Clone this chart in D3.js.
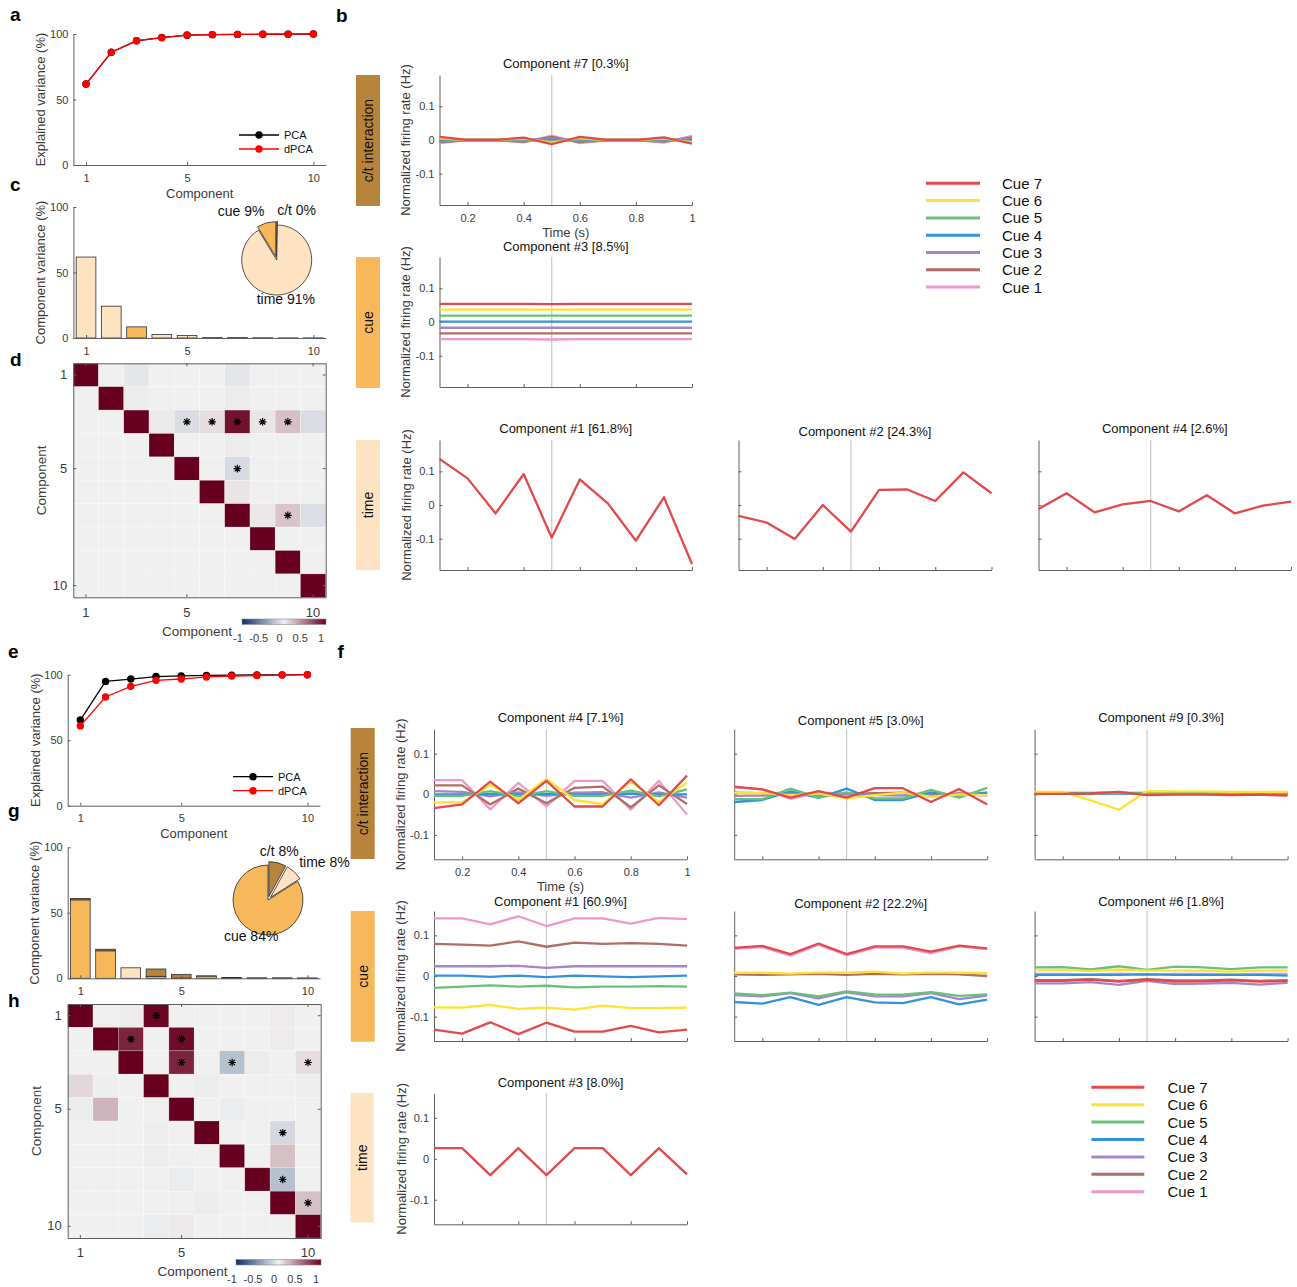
<!DOCTYPE html>
<html>
<head>
<meta charset="utf-8">
<script src="https://cdn.jsdelivr.net/npm/d3@7"></script>
<style>
  html, body { margin: 0; padding: 0; background: #ffffff; }
</style>
</head>
<body>
<script>
// ---------------------------------------------------------------
// Data
// ---------------------------------------------------------------
const components = [1, 2, 3, 4, 5, 6, 7, 8, 9, 10];
const componentTicks = [1, 5, 10];
const varianceTicks = [0, 50, 100];
const timePoints = [0.1, 0.2, 0.3, 0.4, 0.5, 0.6, 0.7, 0.8, 0.9, 1.0];
const timeTicks = [0.2, 0.4, 0.6, 0.8, 1];
const rateTicks = [-0.1, 0, 0.1];
const corrTicks = [-1, -0.5, 0, 0.5, 1];
const stimulusTime = 0.5;
const cueLabels = ["Cue 7", "Cue 6", "Cue 5", "Cue 4", "Cue 3", "Cue 2", "Cue 1"];
const margLabels = ["c/t", "time", "cue"];          // pie order, clockwise from top
const rowNames = ["c/t interaction", "cue", "time"];

// cumulative explained variance (%)
const cumVarPcaA  = [61.8, 86.1, 94.8, 97.3, 99.1, 99.5, 99.7, 99.8, 99.9, 100];
const cumVarDpcaA = [61.6, 86.0, 94.9, 97.2, 99.2, 99.5, 99.7, 99.8, 99.9, 100];
const cumVarPcaE  = [65.4, 94.9, 96.7, 98.6, 99.1, 99.5, 99.7, 99.8, 99.9, 100];
const cumVarDpcaE = [60.9, 83.0, 91.1, 95.7, 96.7, 98.3, 99.0, 99.4, 99.7, 100];

// per-component variance (%) split by marginalization
const compVarCueC  = [0, 0, 8.5, 0, 0, 0, 0, 0, 0, 0];
const compVarTimeC = [61.8, 24.3, 0, 2.6, 1.9, 0.3, 0, 0.2, 0.1, 0.1];
const compVarCtC   = [0, 0, 0, 0, 0, 0, 0.3, 0, 0, 0];
const compVarCueG  = [59.9, 21.0, 0, 1.5, 0.2, 1.7, 0.1, 0.1, 0.1, 0.1];
const compVarTimeG = [0, 0, 8.0, 0, 0, 0, 0, 0, 0, 0];
const compVarCtG   = [1.0, 1.2, 0, 5.6, 2.8, 0.1, 0.5, 0.2, 0.2, 0.1];

// total variance share per marginalization: c/t, time, cue
const pieShareC = [0.3, 91.0, 8.7];
const pieShareG = [8.0, 8.0, 84.0];

// dot products between demixed axes
const corrD = [
  [1, 0, -0.05, 0, 0, 0, -0.05, 0, 0, 0],
  [0, 1, 0.02, 0, 0, 0, 0.02, 0, 0, 0],
  [0, 0, 1, 0.03, -0.1, 0.08, 0.93, 0.05, 0.2, -0.1],
  [0, 0, 0, 1, 0, 0, 0.02, 0, 0, 0],
  [0, 0, 0, 0, 1, 0, -0.11, 0, 0, 0],
  [0, 0, 0, 0, 0, 1, 0.05, 0, 0, 0],
  [0, 0, 0, 0, 0, 0, 1, 0.04, 0.18, -0.09],
  [0, 0, 0, 0, 0, 0, 0, 1, 0, 0],
  [0, 0, 0, 0, 0, 0, 0, 0, 1, 0],
  [0, 0, 0, 0, 0, 0, 0, 0, 0, 1]
];
const sigD = [[3, 5], [3, 6], [3, 7], [3, 8], [3, 9], [5, 7], [7, 9]];

const corrH = [
  [1, 0, 0.02, 0.98, 0, 0, 0, 0, 0.02, 0],
  [0, 1, 0.85, 0, 0.95, 0, 0, 0, 0.02, 0],
  [0, 0, 1, 0, 0.85, 0, -0.25, 0.02, 0, 0.08],
  [0.1, -0.01, 0, 1, 0, -0.02, 0, 0, 0, -0.01],
  [-0.02, 0.25, 0, 0, 1, 0, -0.02, 0, 0, 0],
  [0, 0, 0, -0.01, 0, 1, 0, 0, -0.12, 0],
  [0, 0, 0, -0.01, 0, 0, 1, 0, 0.2, 0],
  [0, 0, 0, 0, -0.02, 0, 0, 1, -0.25, 0],
  [0, 0, 0, 0, 0, -0.02, 0, 0, 1, 0.2],
  [0, 0, 0, -0.02, 0.03, 0, 0, 0, 0, 1]
];
const sigH = [[1, 4], [2, 3], [2, 5], [3, 5], [3, 7], [3, 10], [6, 9], [8, 9], [9, 10]];

// demixed component traces (Hz), rows ordered Cue 7 ... Cue 1
const traceB7 = [
  [0.009, 0.000, 0.000, 0.007, -0.012, 0.009, 0.000, 0.000, 0.008, -0.011],
  [0.006, 0.000, 0.000, 0.005, -0.008, 0.006, 0.000, 0.000, 0.005, -0.007],
  [0.003, 0.000, 0.000, 0.002, -0.004, 0.003, 0.000, 0.000, 0.003, -0.004],
  [0.000, 0.000, 0.000, 0.000, 0.000, 0.000, 0.000, 0.000, 0.000, 0.000],
  [-0.003, 0.000, 0.000, -0.002, 0.004, -0.003, 0.000, 0.000, -0.003, 0.004],
  [-0.006, 0.000, 0.000, -0.005, 0.009, -0.006, 0.000, 0.000, -0.005, 0.008],
  [-0.009, 0.000, 0.000, -0.007, 0.013, -0.009, 0.000, 0.000, -0.008, 0.012]
];
const traceB3 = [
  [0.054, 0.054, 0.054, 0.054, 0.053, 0.054, 0.054, 0.054, 0.054, 0.054],
  [0.037, 0.037, 0.037, 0.037, 0.037, 0.037, 0.037, 0.037, 0.037, 0.037],
  [0.019, 0.019, 0.019, 0.019, 0.019, 0.019, 0.019, 0.019, 0.019, 0.019],
  [0.001, 0.001, 0.001, 0.001, 0.001, 0.001, 0.001, 0.001, 0.001, 0.001],
  [-0.017, -0.017, -0.017, -0.017, -0.017, -0.017, -0.017, -0.017, -0.017, -0.017],
  [-0.034, -0.034, -0.034, -0.034, -0.034, -0.034, -0.034, -0.034, -0.034, -0.034],
  [-0.051, -0.051, -0.051, -0.051, -0.052, -0.051, -0.051, -0.051, -0.051, -0.051]
];
const traceB1 = [0.137, 0.079, -0.025, 0.092, -0.097, 0.076, 0.005, -0.106, 0.023, -0.175];
const traceB2 = [-0.032, -0.052, -0.101, 0.000, -0.079, 0.045, 0.046, 0.012, 0.097, 0.035];
const traceB4 = [-0.012, 0.035, -0.022, 0.002, 0.012, -0.019, 0.029, -0.025, -0.002, 0.010];

const traceF4 = [
  [-0.034, -0.025, 0.031, -0.022, 0.033, -0.030, -0.030, 0.037, -0.027, 0.046],
  [-0.020, -0.020, 0.023, -0.014, 0.038, -0.014, -0.024, 0.031, -0.019, 0.029],
  [-0.004, -0.004, 0.008, -0.005, 0.008, -0.004, -0.004, 0.009, -0.005, 0.012],
  [0.000, 0.000, 0.001, 0.000, 0.001, 0.000, 0.000, 0.002, 0.000, 0.000],
  [0.008, 0.006, -0.005, 0.005, -0.004, 0.004, 0.005, -0.008, 0.005, -0.008],
  [0.022, 0.022, -0.025, 0.014, -0.022, 0.016, 0.019, -0.032, 0.022, -0.024],
  [0.035, 0.035, -0.037, 0.028, -0.030, 0.033, 0.033, -0.038, 0.033, -0.050]
];
const traceF5 = [
  [0.019, 0.012, -0.008, 0.008, -0.008, 0.015, 0.015, -0.019, 0.013, -0.025],
  [0.003, 0.003, -0.002, 0.002, -0.010, -0.002, 0.004, -0.006, 0.000, -0.002],
  [-0.012, -0.012, 0.014, -0.008, 0.005, -0.010, -0.010, 0.011, -0.008, 0.016],
  [-0.019, -0.014, 0.007, -0.009, 0.014, -0.014, -0.014, 0.005, -0.003, 0.005],
  [-0.004, -0.003, 0.004, -0.002, 0.002, -0.002, -0.003, 0.003, -0.002, 0.003],
  [0.004, 0.003, -0.002, 0.002, 0.001, 0.003, 0.004, -0.002, 0.002, 0.000],
  [0.017, 0.012, -0.011, 0.004, -0.004, 0.003, 0.003, -0.005, 0.002, -0.004]
];
const traceF9 = [
  [0.001, 0.001, 0.002, 0.006, -0.002, -0.001, -0.001, -0.002, -0.001, -0.003],
  [0.006, 0.006, -0.015, -0.038, 0.008, 0.007, 0.007, 0.006, 0.006, 0.006],
  [0.003, 0.003, 0.002, 0.003, 0.003, 0.003, 0.003, 0.003, 0.003, 0.003],
  [0.002, 0.002, 0.002, 0.002, 0.002, 0.002, 0.002, 0.002, 0.002, 0.002],
  [0.003, 0.003, 0.003, 0.003, 0.002, 0.003, 0.003, 0.003, 0.003, 0.003],
  [0.002, 0.002, 0.003, 0.004, 0.001, 0.002, 0.002, 0.002, 0.002, 0.001],
  [0.004, 0.004, 0.004, 0.004, 0.004, 0.004, 0.004, 0.004, 0.004, 0.004]
];
const traceF1 = [
  [-0.132, -0.142, -0.114, -0.143, -0.115, -0.137, -0.137, -0.123, -0.139, -0.132],
  [-0.077, -0.078, -0.071, -0.081, -0.078, -0.083, -0.073, -0.079, -0.079, -0.078],
  [-0.029, -0.026, -0.023, -0.026, -0.024, -0.028, -0.026, -0.026, -0.025, -0.026],
  [0.001, 0.001, -0.002, 0.001, -0.003, 0.001, -0.001, -0.003, -0.001, 0.001],
  [0.024, 0.024, 0.024, 0.025, 0.020, 0.024, 0.024, 0.024, 0.024, 0.024],
  [0.079, 0.077, 0.075, 0.085, 0.072, 0.082, 0.079, 0.081, 0.079, 0.075],
  [0.142, 0.142, 0.127, 0.147, 0.123, 0.142, 0.142, 0.129, 0.143, 0.140]
];
const traceF2 = [
  [0.069, 0.074, 0.054, 0.080, 0.054, 0.073, 0.073, 0.060, 0.075, 0.068],
  [0.008, 0.008, 0.006, 0.009, 0.008, 0.011, 0.006, 0.009, 0.008, 0.007],
  [-0.043, -0.047, -0.041, -0.050, -0.038, -0.045, -0.046, -0.040, -0.049, -0.045],
  [-0.064, -0.068, -0.052, -0.071, -0.052, -0.065, -0.067, -0.052, -0.070, -0.058],
  [-0.047, -0.050, -0.042, -0.055, -0.040, -0.050, -0.050, -0.042, -0.057, -0.048],
  [0.004, 0.003, 0.004, 0.005, 0.003, 0.005, 0.004, 0.005, 0.004, 0.000],
  [0.067, 0.071, 0.050, 0.077, 0.051, 0.070, 0.070, 0.056, 0.073, 0.066]
];
const traceF6 = [
  [-0.012, -0.012, -0.009, -0.014, -0.009, -0.014, -0.013, -0.011, -0.014, -0.012],
  [0.014, 0.015, 0.012, 0.016, 0.013, 0.013, 0.013, 0.011, 0.013, 0.014],
  [0.021, 0.022, 0.016, 0.024, 0.015, 0.023, 0.021, 0.017, 0.021, 0.021],
  [0.003, 0.003, 0.003, 0.003, 0.004, 0.003, 0.003, 0.003, 0.003, 0.001],
  [-0.018, -0.018, -0.015, -0.022, -0.012, -0.020, -0.019, -0.017, -0.021, -0.017],
  [-0.010, -0.010, -0.008, -0.012, -0.008, -0.011, -0.011, -0.009, -0.012, -0.010],
  [0.005, 0.005, 0.004, 0.006, 0.004, 0.005, 0.005, 0.004, 0.005, 0.005]
];
const traceF3 = [0.026, 0.026, -0.040, 0.026, -0.040, 0.026, 0.026, -0.040, 0.026, -0.038];

// ---------------------------------------------------------------
// Styling
// ---------------------------------------------------------------
const FONT = "'Liberation Sans', Arial, Helvetica, sans-serif";
const AXIS_COLOR = "#5f5f5f";
const TEXT_COLOR = "#3a3a3a";
const cueColors = ["#e2494b", "#fde232", "#6abf7b", "#3292dc", "#a585c9", "#ae6f63", "#ef98cd"];
const margColors = { "c/t": "#b8843b", "time": "#fde3c1", "cue": "#f7b85b" };
const rowColors = { "c/t interaction": "#b8843b", "cue": "#f7b85b", "time": "#fde3c1" };
const corrColor = d3.scaleLinear().domain([-1, 0, 1])
  .range(["#0b3166", "#f0f0f0", "#67001f"]).interpolate(d3.interpolateRgb);

const svg = d3.select("body").append("svg")
  .attr("width", 1297).attr("height", 1287)
  .attr("font-family", FONT);
svg.append("rect").attr("width", 1297).attr("height", 1287).attr("fill", "#fff");

function styleAxis(sel, size) {
  sel.attr("font-family", FONT).attr("font-size", size);
  sel.select(".domain").attr("stroke", AXIS_COLOR).attr("stroke-width", 1);
  sel.selectAll(".tick line").attr("stroke", AXIS_COLOR);
  sel.selectAll(".tick text").attr("fill", TEXT_COLOR);
}
function hText(x, y, str, size, opts = {}) {
  return svg.append("text").attr("x", x).attr("y", y)
    .attr("text-anchor", opts.anchor || "middle")
    .attr("font-size", size)
    .attr("font-weight", opts.bold ? "bold" : null)
    .attr("fill", opts.color || TEXT_COLOR)
    .text(str);
}
function vText(x, y, str, size, color) {
  return svg.append("text")
    .attr("transform", `translate(${x},${y}) rotate(-90)`)
    .attr("text-anchor", "middle").attr("dy", "0.35em")
    .attr("font-size", size).attr("fill", color || TEXT_COLOR)
    .text(str);
}
const rateFmt = d => (d === 0 ? "0" : String(d));

// ---------------------------------------------------------------
// Explained variance (a, e)
// ---------------------------------------------------------------
function cumVarPanel(box, pca, dpca, leg) {
  const x = d3.scaleLinear().domain([0.5, 10.5]).range([box.left, box.right]);
  const y = d3.scaleLinear().domain([0, 100]).range([box.bottom, box.top]);
  const g = svg.append("g");
  const xa = g.append("g").attr("transform", `translate(0,${box.bottom})`)
    .call(d3.axisBottom(x).tickValues(componentTicks).tickSizeInner(-3).tickSizeOuter(0).tickPadding(9));
  styleAxis(xa, 11);
  const ya = g.append("g").attr("transform", `translate(${box.left},0)`)
    .call(d3.axisLeft(y).tickValues(varianceTicks).tickSizeInner(-3).tickSizeOuter(0).tickPadding(5));
  styleAxis(ya, 11);
  const line = d3.line().x((d, i) => x(components[i])).y(d => y(d));
  [[pca, "#000000"], [dpca, "#ff0000"]].forEach(([vals, col]) => {
    g.append("path").attr("d", line(vals)).attr("fill", "none").attr("stroke", col).attr("stroke-width", 1.3);
    g.selectAll(null).data(vals).enter().append("circle")
      .attr("cx", (d, i) => x(components[i])).attr("cy", d => y(d)).attr("r", 3.7).attr("fill", col);
  });
  // legend
  [["PCA", "#000000"], ["dPCA", "#ff0000"]].forEach(([lab, col], i) => {
    const yy = leg.y + i * 14;
    g.append("line").attr("x1", leg.x0).attr("x2", leg.x1).attr("y1", yy).attr("y2", yy)
      .attr("stroke", col).attr("stroke-width", 1.3);
    g.append("circle").attr("cx", (leg.x0 + leg.x1) / 2).attr("cy", yy).attr("r", 3.7).attr("fill", col);
    g.append("text").attr("x", leg.x1 + 5).attr("y", yy).attr("dy", "0.35em")
      .attr("font-size", 11).attr("fill", "#111").text(lab);
  });
  hText((box.left + box.right) / 2, box.xTitleY, "Component", 13);
  vText(box.yTitleX, (box.top + box.bottom) / 2, "Explained variance (%)", 13);
}

// ---------------------------------------------------------------
// Component variance bars with pie (c, g)
// ---------------------------------------------------------------
function compVarPanel(box, cue, time, ct, share, pieBox, anchors) {
  const x = d3.scaleLinear().domain([0.5, 10.5]).range([box.left, box.right]);
  const y = d3.scaleLinear().domain([0, 100]).range([box.bottom, box.top]);
  const bw = (x(2) - x(1)) * 0.78;
  const g = svg.append("g");
  components.forEach((c, i) => {
    let base = 0;
    [["cue", cue[i]], ["time", time[i]], ["c/t", ct[i]]].forEach(([m, v]) => {
      if (v <= 0) return;
      g.append("rect").attr("x", x(c) - bw / 2).attr("width", bw)
        .attr("y", y(base + v)).attr("height", y(base) - y(base + v))
        .attr("fill", margColors[m]).attr("stroke", "#2f2f2f").attr("stroke-width", 0.8);
      base += v;
    });
  });
  const xa = g.append("g").attr("transform", `translate(0,${box.bottom})`)
    .call(d3.axisBottom(x).tickValues(componentTicks).tickSizeInner(-3).tickSizeOuter(0).tickPadding(9));
  styleAxis(xa, 11);
  const ya = g.append("g").attr("transform", `translate(${box.left},0)`)
    .call(d3.axisLeft(y).tickValues(varianceTicks).tickSizeInner(-3).tickSizeOuter(0).tickPadding(5));
  styleAxis(ya, 11);
  vText(box.yTitleX, (box.top + box.bottom) / 2, "Component variance (%)", 13);

  // pie, clockwise from 12 o'clock, small slices pulled out
  const r = pieBox.r;
  const arcs = d3.pie().sort(null).value(d => d)(share);
  const arc = d3.arc().innerRadius(0).outerRadius(r);
  arcs.forEach((a, i) => {
    const mid = (a.startAngle + a.endAngle) / 2;
    const ex = share[i] < 10 ? 0.1 * r : 0;
    const cx = pieBox.cx + Math.sin(mid) * ex, cy = pieBox.cy - Math.cos(mid) * ex;
    g.append("path").attr("d", arc(a)).attr("transform", `translate(${cx},${cy})`)
      .attr("fill", margColors[margLabels[i]]).attr("stroke", "#2a2a2a").attr("stroke-width", 0.8);
    const upper = Math.cos(mid) > 0;
    const d = upper ? 1.2 * r + ex : 1.0 * r + ex;
    const lx = pieBox.cx + Math.sin(mid) * d;
    const ly = upper ? pieBox.cy - Math.cos(mid) * d : pieBox.cy - Math.cos(mid) * d + 10;
    g.append("text").attr("x", lx).attr("y", ly).attr("text-anchor", anchors[i])
      .attr("font-size", 14).attr("fill", "#111")
      .text(`${margLabels[i]} ${Math.round(share[i])}%`);
  });
}

// ---------------------------------------------------------------
// Axis dot-product matrices (d, h)
// ---------------------------------------------------------------
function corrPanel(box, mat, sig, cbar, id) {
  const xb = d3.scaleBand().domain(components).range([box.left, box.right]);
  const yb = d3.scaleBand().domain(components).range([box.top, box.bottom]);
  const g = svg.append("g");
  mat.forEach((row, i) => row.forEach((v, j) => {
    g.append("rect").attr("x", xb(components[j])).attr("y", yb(components[i]))
      .attr("width", xb.bandwidth()).attr("height", yb.bandwidth())
      .attr("fill", corrColor(v)).attr("stroke", "rgba(255,255,255,0.35)").attr("stroke-width", 0.6);
  }));
  const star = "M-3.8,0H3.8M0,-3.8V3.8M-2.7,-2.7L2.7,2.7M-2.7,2.7L2.7,-2.7";
  sig.forEach(([i, j]) => {
    g.append("path").attr("d", star)
      .attr("transform", `translate(${xb(j) + xb.bandwidth() / 2},${yb(i) + yb.bandwidth() / 2})`)
      .attr("stroke", "#000").attr("stroke-width", 1.2).attr("fill", "none");
  });
  const mk = (axis, tr, labels) => {
    const a = g.append("g").attr("transform", tr)
      .call(axis.tickValues(componentTicks).tickSizeInner(-3).tickSizeOuter(0).tickPadding(labels ? 6 : 3)
        .tickFormat(labels ? (d => String(d)) : (() => "")));
    styleAxis(a, 13);
    return a;
  };
  mk(d3.axisLeft(yb), `translate(${box.left},0)`, true);
  mk(d3.axisRight(yb), `translate(${box.right},0)`, false);
  mk(d3.axisTop(xb), `translate(0,${box.top})`, false);
  const bx = mk(d3.axisBottom(xb), `translate(0,${box.bottom})`, true);
  bx.selectAll(".tick text").attr("y", 10);
  hText(box.xTitleX, box.xTitleY, "Component", 13.5);
  vText(box.yTitleX, (box.top + box.bottom) / 2, "Component", 13.5);

  // colour bar
  const grad = svg.append("defs").append("linearGradient").attr("id", id)
    .attr("x1", "0%").attr("x2", "100%").attr("y1", "0%").attr("y2", "0%");
  d3.range(0, 1.0001, 0.05).forEach(t => {
    grad.append("stop").attr("offset", `${t * 100}%`).attr("stop-color", corrColor(-1 + 2 * t));
  });
  g.append("rect").attr("x", cbar.x0).attr("y", cbar.y0).attr("width", cbar.x1 - cbar.x0)
    .attr("height", cbar.y1 - cbar.y0).attr("fill", `url(#${id})`)
    .attr("stroke", "#8a8a8a").attr("stroke-width", 0.6);
  const cx = d3.scaleLinear().domain([-1, 1]).range([cbar.x0 - 4, cbar.x1 - 5]);
  corrTicks.forEach(t => {
    g.append("text").attr("x", cx(t)).attr("y", cbar.labelY).attr("text-anchor", "middle")
      .attr("font-size", 11).attr("fill", TEXT_COLOR).text(String(t));
  });
}

// ---------------------------------------------------------------
// Demixed component traces (b, f)
// ---------------------------------------------------------------
function tracePanel(p) {
  const x = d3.scaleLinear().domain([timePoints[0], timePoints[timePoints.length - 1]]).range([p.left, p.right]);
  const y = d3.scaleLinear().domain([-p.yMax, p.yMax]).range([p.bottom, p.top]);
  const g = svg.append("g");
  g.append("line").attr("x1", x(stimulusTime)).attr("x2", x(stimulusTime))
    .attr("y1", p.top).attr("y2", p.bottom).attr("stroke", "#c8c8c8").attr("stroke-width", 1.2);
  const xa = g.append("g").attr("transform", `translate(0,${p.bottom})`)
    .call(d3.axisBottom(x).tickValues(timeTicks).tickSizeInner(-3).tickSizeOuter(0).tickPadding(9)
      .tickFormat(p.xLabels ? (d => String(d)) : (() => "")));
  styleAxis(xa, 11);
  const ya = g.append("g").attr("transform", `translate(${p.left},0)`)
    .call(d3.axisLeft(y).tickValues(rateTicks).tickSizeInner(-3).tickSizeOuter(0).tickPadding(5)
      .tickFormat(p.yLabels ? rateFmt : (() => "")));
  styleAxis(ya, 11);
  const line = d3.line().x((d, i) => x(timePoints[i])).y(d => y(d));
  // Cue 1 first so Cue 7 ends on top
  for (let i = p.series.length - 1; i >= 0; i--) {
    g.append("path").attr("d", line(p.series[i])).attr("fill", "none")
      .attr("stroke", cueColors[i]).attr("stroke-width", 2.3).attr("stroke-linejoin", "round");
  }
  hText((p.left + p.right) / 2, p.titleY, p.title, 13, { color: "#111" });
  if (p.yTitleX) vText(p.yTitleX, (p.top + p.bottom) / 2, "Normalized firing rate (Hz)", 13);
  if (p.xTitleY) hText((p.left + p.right) / 2, p.xTitleY, "Time (s)", 13);
}

function rowBox(x0, x1, y0, y1, name) {
  svg.append("rect").attr("x", x0).attr("y", y0).attr("width", x1 - x0).attr("height", y1 - y0)
    .attr("fill", rowColors[name]);
  vText((x0 + x1) / 2, (y0 + y1) / 2, name, 14, "#111");
}

function cueLegend(x0, x1, tx, y0, dy) {
  cueLabels.forEach((lab, i) => {
    const yy = y0 + i * dy;
    svg.append("line").attr("x1", x0).attr("x2", x1).attr("y1", yy).attr("y2", yy)
      .attr("stroke", cueColors[i]).attr("stroke-width", 3);
    svg.append("text").attr("x", tx).attr("y", yy).attr("dy", "0.36em")
      .attr("font-size", 15).attr("fill", "#111").text(lab);
  });
}

// ---------------------------------------------------------------
// Layout
// ---------------------------------------------------------------
cumVarPanel({ left: 73.4, right: 326, top: 34, bottom: 165, xTitleY: 198, yTitleX: 40 },
  cumVarPcaA, cumVarDpcaA, { x0: 239, x1: 279, y: 135 });
compVarPanel({ left: 73.4, right: 326, top: 207, bottom: 338, yTitleX: 40 },
  compVarCueC, compVarTimeC, compVarCtC, pieShareC, { cx: 276.7, cy: 260, r: 35 },
  ["start", "middle", "end"]);
corrPanel({ left: 73.3, right: 325.7, top: 363.3, bottom: 597.3, xTitleX: 197, xTitleY: 635.5, yTitleX: 41 },
  corrD, sigD, { x0: 242, x1: 326, y0: 619, y1: 624.5, labelY: 642 }, "cbarD");

cumVarPanel({ left: 67.7, right: 320, top: 674.7, bottom: 805.7, xTitleY: 838, yTitleX: 35 },
  cumVarPcaE, cumVarDpcaE, { x0: 233, x1: 273, y: 776.7 });
compVarPanel({ left: 67.7, right: 320, top: 847.3, bottom: 978.3, yTitleX: 34 },
  compVarCueG, compVarTimeG, compVarCtG, pieShareG, { cx: 268, cy: 900, r: 35 },
  ["middle", "start", "middle"]);
corrPanel({ left: 67.7, right: 320.7, top: 1004, bottom: 1238, xTitleX: 192.5, xTitleY: 1276, yTitleX: 36 },
  corrH, sigH, { x0: 236, x1: 321, y0: 1259.5, y1: 1265, labelY: 1283 }, "cbarH");

// b: first dataset
rowBox(356, 380, 75, 206, "c/t interaction");
rowBox(356, 380, 257, 388, "cue");
rowBox(356, 380, 440, 570, "time");
tracePanel({ left: 439.5, right: 692, top: 75, bottom: 205, yMax: 0.193, series: traceB7,
  title: "Component #7 [0.3%]", titleY: 68, xLabels: true, yLabels: true, yTitleX: 405, xTitleY: 237 });
tracePanel({ left: 439.5, right: 692, top: 257, bottom: 387, yMax: 0.193, series: traceB3,
  title: "Component #3 [8.5%]", titleY: 251, xLabels: false, yLabels: true, yTitleX: 405 });
tracePanel({ left: 439.5, right: 692, top: 440, bottom: 570, yMax: 0.193, series: [traceB1],
  title: "Component #1 [61.8%]", titleY: 433, xLabels: false, yLabels: true, yTitleX: 406 });
tracePanel({ left: 738.5, right: 991.5, top: 440, bottom: 570, yMax: 0.193, series: [traceB2],
  title: "Component #2 [24.3%]", titleY: 436, xLabels: false, yLabels: false });
tracePanel({ left: 1038.5, right: 1291, top: 440, bottom: 570, yMax: 0.193, series: [traceB4],
  title: "Component #4 [2.6%]", titleY: 433, xLabels: false, yLabels: false });
cueLegend(926, 980, 1002, 183.3, 17.3);

// f: second dataset
rowBox(350.7, 374.7, 728, 859, "c/t interaction");
rowBox(350.7, 374.7, 911, 1041.7, "cue");
rowBox(350.5, 373.7, 1093, 1222.5, "time");
tracePanel({ left: 434, right: 687, top: 729.3, bottom: 859.3, yMax: 0.16, series: traceF4,
  title: "Component #4 [7.1%]", titleY: 722, xLabels: true, yLabels: true, yTitleX: 400, xTitleY: 891 });
tracePanel({ left: 734.2, right: 987.2, top: 729.3, bottom: 859.3, yMax: 0.16, series: traceF5,
  title: "Component #5 [3.0%]", titleY: 725, xLabels: false, yLabels: false });
tracePanel({ left: 1034.6, right: 1287.6, top: 729.3, bottom: 859.3, yMax: 0.16, series: traceF9,
  title: "Component #9 [0.3%]", titleY: 722, xLabels: false, yLabels: false });
tracePanel({ left: 434, right: 687, top: 911, bottom: 1041, yMax: 0.16, series: traceF1,
  title: "Component #1 [60.9%]", titleY: 905.5, xLabels: false, yLabels: true, yTitleX: 400 });
tracePanel({ left: 734.2, right: 987.2, top: 911, bottom: 1041, yMax: 0.16, series: traceF2,
  title: "Component #2 [22.2%]", titleY: 908, xLabels: false, yLabels: false });
tracePanel({ left: 1034.6, right: 1287.6, top: 911, bottom: 1041, yMax: 0.16, series: traceF6,
  title: "Component #6 [1.8%]", titleY: 905.5, xLabels: false, yLabels: false });
tracePanel({ left: 434, right: 687, top: 1093.3, bottom: 1224.3, yMax: 0.16, series: [traceF3],
  title: "Component #3 [8.0%]", titleY: 1087, xLabels: false, yLabels: true, yTitleX: 401 });
cueLegend(1091.4, 1144.3, 1167.5, 1087.3, 17.4);

// panel letters
[["a", 10, 21], ["b", 336, 22], ["c", 10, 191], ["d", 10, 366], ["e", 8, 658],
 ["f", 337.5, 658], ["g", 8, 817], ["h", 8, 1007]].forEach(([ch, x, y]) => {
  hText(x, y, ch, 19, { anchor: "start", bold: true, color: "#000" });
});
</script>
</body>
</html>
